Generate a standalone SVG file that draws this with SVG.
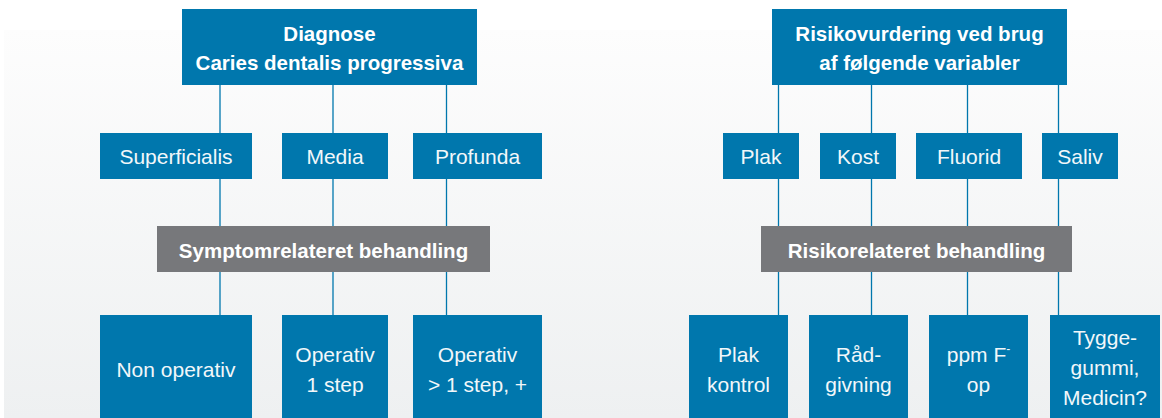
<svg xmlns="http://www.w3.org/2000/svg" width="1162" height="418" viewBox="0 0 1162 418">
  <defs>
    <linearGradient id="bg" x1="0" y1="0" x2="0" y2="1">
      <stop offset="0" stop-color="#fdfdfd"/>
      <stop offset="1" stop-color="#eef0f1"/>
    </linearGradient>
    <style>
      .blue { fill: #0077ad; }
      .gray { fill: #77787b; }
      .b { font-family: "Liberation Sans", Arial, sans-serif; font-weight: bold; font-size: 20.5px; fill: #ffffff; text-anchor: middle; }
      .l { font-family: "Liberation Sans", Arial, sans-serif; font-size: 21px; fill: #f2f7fa; text-anchor: middle; }
      .conn line { stroke: #0077ad; stroke-width: 1.3; }
    </style>
  </defs>
  <rect x="0" y="0" width="1162" height="418" fill="#ffffff"/>
  <rect x="4" y="30" width="1158" height="388" fill="url(#bg)"/>

  <g class="conn" id="connectors">
    <line x1="220" y1="85" x2="220" y2="133"/>
    <line x1="333" y1="85" x2="333" y2="133"/>
    <line x1="446.5" y1="85" x2="446.5" y2="133"/>
    <line x1="220" y1="179" x2="220" y2="226"/>
    <line x1="333" y1="179" x2="333" y2="226"/>
    <line x1="446.5" y1="179" x2="446.5" y2="226"/>
    <line x1="220" y1="272" x2="220" y2="315"/>
    <line x1="333" y1="272" x2="333" y2="315"/>
    <line x1="446.5" y1="272" x2="446.5" y2="315"/>
    <line x1="778.5" y1="85" x2="778.5" y2="133"/>
    <line x1="871.5" y1="85" x2="871.5" y2="133"/>
    <line x1="967.5" y1="85" x2="967.5" y2="133"/>
    <line x1="1058.5" y1="85" x2="1058.5" y2="133"/>
    <line x1="778.5" y1="179" x2="778.5" y2="226"/>
    <line x1="871.5" y1="179" x2="871.5" y2="226"/>
    <line x1="967.5" y1="179" x2="967.5" y2="226"/>
    <line x1="1058.5" y1="179" x2="1058.5" y2="226"/>
    <line x1="778.5" y1="272" x2="778.5" y2="315"/>
    <line x1="871.5" y1="272" x2="871.5" y2="315"/>
    <line x1="967.5" y1="272" x2="967.5" y2="315"/>
    <line x1="1058.5" y1="272" x2="1058.5" y2="315"/>
  </g>

  <g id="diagnose">
    <rect class="blue" x="182" y="9" width="295" height="76"/>
    <text class="b" x="329.5" y="40.5">Diagnose</text>
    <text class="b" x="329.5" y="70">Caries dentalis progressiva</text>
  </g>
  <g id="superficialis">
    <rect class="blue" x="100" y="133" width="152" height="46"/>
    <text class="l" x="176" y="164">Superficialis</text>
  </g>
  <g id="media">
    <rect class="blue" x="282" y="133" width="106" height="46"/>
    <text class="l" x="335" y="164">Media</text>
  </g>
  <g id="profunda">
    <rect class="blue" x="413" y="133" width="129" height="46"/>
    <text class="l" x="477.5" y="164">Profunda</text>
  </g>
  <g id="symptom">
    <rect class="gray" x="157" y="226" width="333" height="46"/>
    <text class="b" x="323.5" y="257.5">Symptomrelateret behandling</text>
  </g>
  <g id="nonoperativ">
    <rect class="blue" x="100" y="315" width="152" height="103"/>
    <text class="l" x="176" y="377">Non operativ</text>
  </g>
  <g id="operativ1">
    <rect class="blue" x="282" y="315" width="106" height="103"/>
    <text class="l" x="335" y="362">Operativ</text>
    <text class="l" x="335" y="392">1 step</text>
  </g>
  <g id="operativ2">
    <rect class="blue" x="413" y="315" width="129" height="103"/>
    <text class="l" x="477.5" y="362">Operativ</text>
    <text class="l" x="477.5" y="392">&gt; 1 step, +</text>
  </g>

  <g id="risiko">
    <rect class="blue" x="772" y="9" width="295" height="76"/>
    <text class="b" x="919.5" y="40.5">Risikovurdering ved brug</text>
    <text class="b" x="919.5" y="70">af følgende variabler</text>
  </g>
  <g id="plak">
    <rect class="blue" x="723" y="133" width="76" height="46"/>
    <text class="l" x="761" y="164">Plak</text>
  </g>
  <g id="kost">
    <rect class="blue" x="820" y="133" width="76" height="46"/>
    <text class="l" x="858" y="164">Kost</text>
  </g>
  <g id="fluorid">
    <rect class="blue" x="916" y="133" width="106" height="46"/>
    <text class="l" x="969" y="164">Fluorid</text>
  </g>
  <g id="saliv">
    <rect class="blue" x="1042" y="133" width="76" height="46"/>
    <text class="l" x="1080" y="164">Saliv</text>
  </g>
  <g id="risikorelateret">
    <rect class="gray" x="761" y="226" width="311" height="46"/>
    <text class="b" x="916.5" y="257.5">Risikorelateret behandling</text>
  </g>
  <g id="plakkontrol">
    <rect class="blue" x="689" y="315" width="99" height="103"/>
    <text class="l" x="738.5" y="362">Plak</text>
    <text class="l" x="738.5" y="392">kontrol</text>
  </g>
  <g id="raadgivning">
    <rect class="blue" x="809" y="315" width="99" height="103"/>
    <text class="l" x="858.5" y="362">Råd-</text>
    <text class="l" x="858.5" y="392">givning</text>
  </g>
  <g id="ppm">
    <rect class="blue" x="929" y="315" width="99" height="103"/>
    <text class="l" x="978.5" y="362">ppm F<tspan font-size="12" dy="-9">-</tspan></text>
    <text class="l" x="978.5" y="392">op</text>
  </g>
  <g id="tyggegummi">
    <rect class="blue" x="1050" y="315" width="110" height="103"/>
    <text class="l" x="1105" y="345">Tygge-</text>
    <text class="l" x="1105" y="375">gummi,</text>
    <text class="l" x="1105" y="405">Medicin?</text>
  </g>
</svg>
